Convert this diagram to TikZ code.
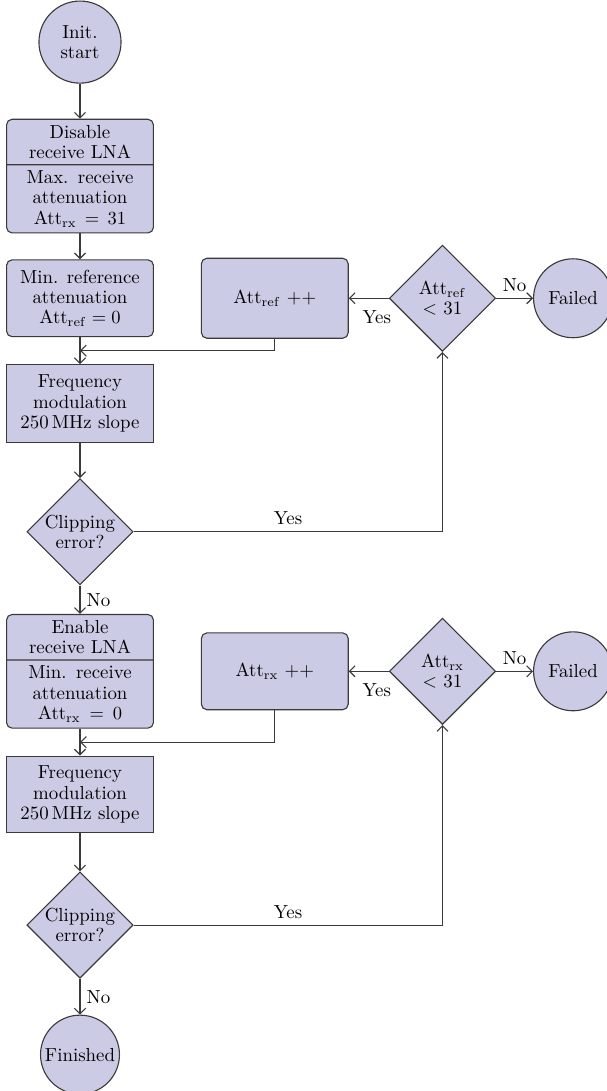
\documentclass[tikz,border=0pt]{standalone}
\usepackage{tikz}
\usetikzlibrary{arrows.meta,positioning,shapes.geometric,shapes.multipart,calc}
\definecolor{lavender}{RGB}{204,203,229}
\definecolor{ink}{HTML}{3A3A3A}
\tikzset{
  flowbox/.style={
    rectangle, draw=ink, fill=lavender, line width=0.6pt,
    minimum width=2.79cm, minimum height=#1,
    align=center, inner sep=2pt
  },
  flowbox/.default=1.48cm,
  stepbox/.style={flowbox=#1, rounded corners=3pt},
  stepbox/.default=1.46cm,
  splitbox/.style={
    rectangle split, rectangle split parts=2,
    draw=ink, fill=lavender, line width=0.6pt, rounded corners=3pt,
    text width=2.65cm, align=center,
    inner xsep=2pt, inner ysep=2.9pt
  },
  decision/.style={
    diamond, draw=ink, fill=lavender, line width=0.6pt,
    minimum width=2.02cm, minimum height=2.02cm,
    inner sep=0pt, align=center
  },
  terminal/.style={
    circle, draw=ink, fill=lavender, line width=0.6pt,
    minimum size=#1, inner sep=0pt, align=center
  },
  terminal/.default=1.5cm,
  flowarrow/.style={
    -{Straight Barb[length=3pt,width=6pt]}, draw=ink, line width=0.6pt
  },
}

\begin{document}
\begin{tikzpicture}[
  every node/.style={font=\fontsize{10.2}{11}\selectfont}
]

% Reference attenuation (Att_ref) loop
\node[terminal=1.56cm] (start) {Init.\\start};
\useasboundingbox ($(start.center)+(-1.52,0.80)$) rectangle ++(11.53,-20.73);
\node[splitbox, below=0.665cm of start] (rxoff) {Disable\\receive LNA
  \nodepart{two} Max. receive\\attenuation\\Att$_\mathrm{rx}=31$};
\node[stepbox, below=0.49cm of rxoff] (refmin) {Min. reference\\attenuation\\Att$_\mathrm{ref}=0$};
\node[flowbox, below=0.51cm of refmin] (sweep1) {Frequency\\modulation\\250\,MHz slope};
\node[decision, below=0.665cm of sweep1] (clip1) {Clipping\\error?};
\node[stepbox=1.52cm, right=0.89cm of refmin] (refinc) {Att$_\mathrm{ref}$ ++};
\node[decision, right=0.76cm of refinc] (refchk) {Att$_\mathrm{ref}$\\$<$ 31};
\node[terminal, right=0.70cm of refchk] (fail1) {Failed};
\coordinate (join1) at ($(refmin.south)!0.5!(sweep1.north)$);

\draw[flowarrow] (start) -- (rxoff);
\draw[flowarrow] (rxoff) -- (refmin);
\draw[flowarrow] (refmin) -- (sweep1);
\draw[flowarrow] (refinc.south) |- (join1);
\draw[flowarrow] (sweep1) -- (clip1);
\draw[flowarrow] (clip1.east) -| (refchk.south) node[pos=0.25, above] {Yes};
\draw[flowarrow] (refchk.west) -- (refinc.east) node[pos=0.3, below=3pt] {Yes};
\draw[flowarrow] (refchk.east) -- (fail1.west) node[midway, above] {No};

% Receive attenuation (Att_rx) loop
\node[splitbox, below=0.54cm of clip1] (rxon) {Enable\\receive LNA
  \nodepart{two} Min. receive\\attenuation\\Att$_\mathrm{rx}=0$};
\node[flowbox=1.46cm, below=0.51cm of rxon] (sweep2) {Frequency\\modulation\\250\,MHz slope};
\node[decision, below=0.72cm of sweep2] (clip2) {Clipping\\error?};
\node[terminal, below=0.68cm of clip2] (done) {Finished};
\node[stepbox=1.46cm, right=0.89cm of rxon] (rxinc) {Att$_\mathrm{rx}$ ++};
\node[decision, right=0.76cm of rxinc] (rxchk) {Att$_\mathrm{rx}$\\$<$ 31};
\node[terminal, right=0.70cm of rxchk] (fail2) {Failed};
\coordinate (join2) at ($(rxon.south)!0.5!(sweep2.north)$);

\draw[flowarrow] (clip1) -- (rxon) node[midway, right] {No};
\draw[flowarrow] (rxon) -- (sweep2);
\draw[flowarrow] (rxinc.south) |- (join2);
\draw[flowarrow] (sweep2) -- (clip2);
\draw[flowarrow] (clip2.east) -| (rxchk.south) node[pos=0.25, above] {Yes};
\draw[flowarrow] (rxchk.west) -- (rxinc.east) node[pos=0.3, below=3pt] {Yes};
\draw[flowarrow] (rxchk.east) -- (fail2.west) node[midway, above] {No};
\draw[flowarrow] (clip2) -- (done) node[midway, right] {No};

\end{tikzpicture}
\end{document}
